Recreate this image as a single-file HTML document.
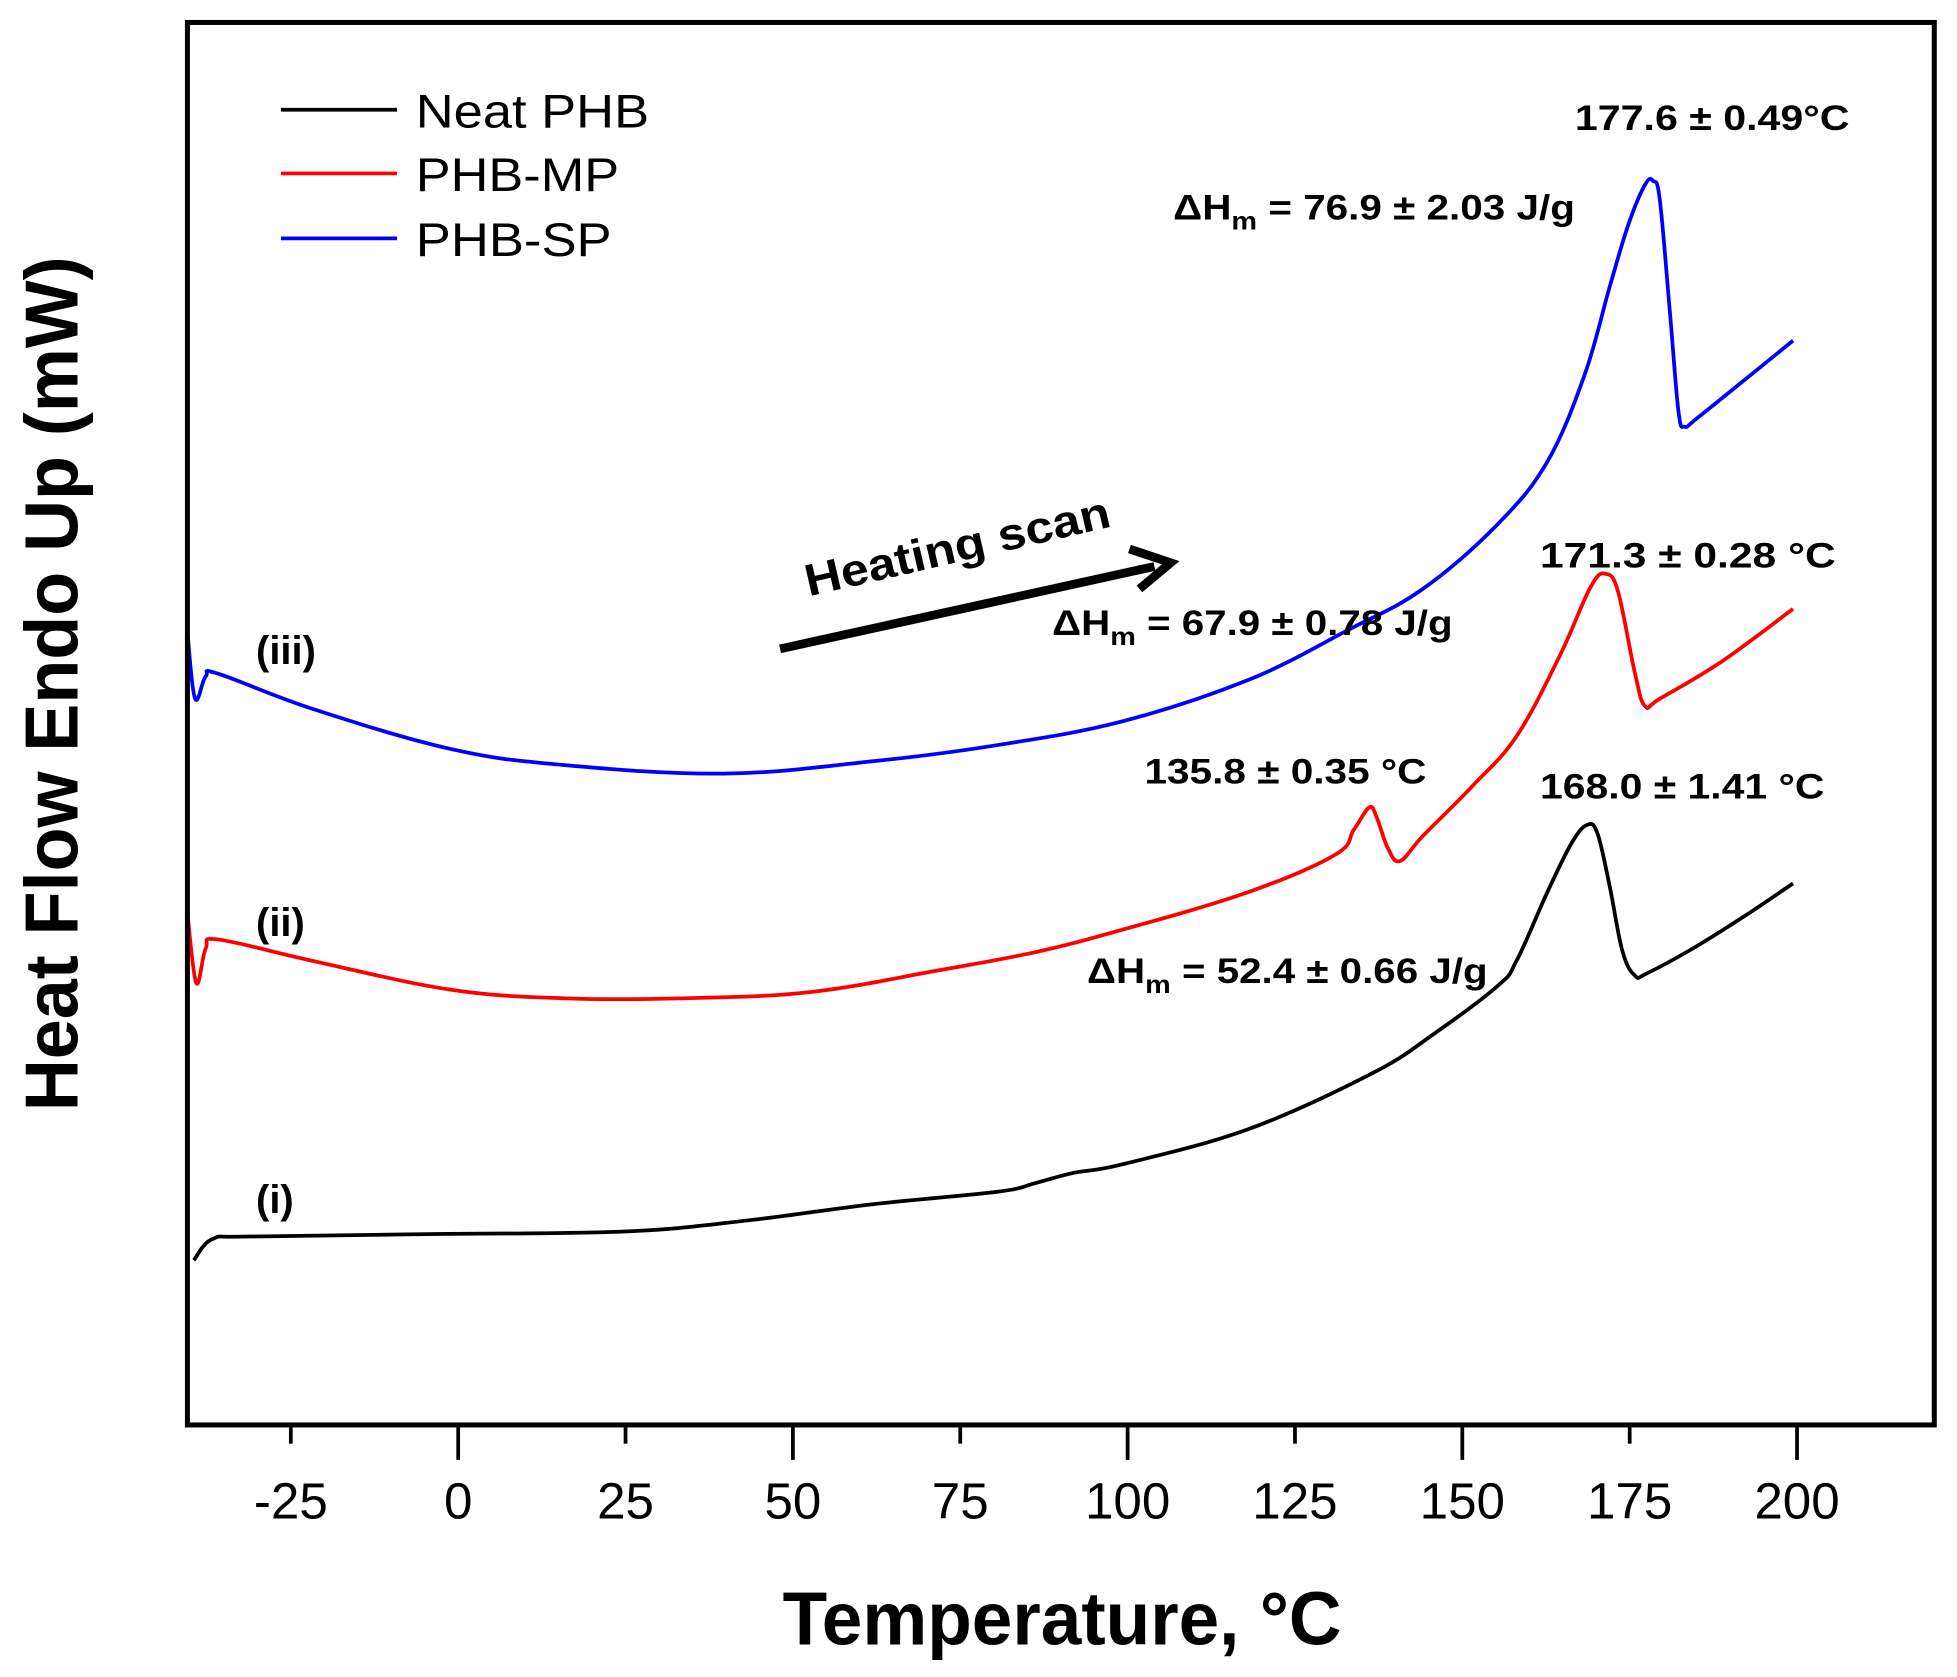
<!DOCTYPE html>
<html><head><meta charset="utf-8"><style>
html,body{margin:0;padding:0;background:#fff;}
svg{display:block;font-family:"Liberation Sans",Arial,sans-serif;}
</style></head><body>
<svg id="chart" width="1957" height="1677" viewBox="0 0 1568 1344" xmlns="http://www.w3.org/2000/svg">
<rect x="0" y="0" width="1568" height="1344" fill="#fff"/>
<g id="plot"></g>
<rect x="150" y="18" width="1400" height="1124" fill="none" stroke="#000" stroke-width="4"/>
<g id="xaxis"></g>
<text x="851" y="1318" text-anchor="middle" font-weight="bold" font-size="60" textLength="448" lengthAdjust="spacingAndGlyphs">Temperature, °C</text>
<text transform="translate(62,548) rotate(-90)" text-anchor="middle" font-weight="bold" font-size="60" textLength="685" lengthAdjust="spacingAndGlyphs">Heat Flow Endo Up (mW)</text>
<g>
<g><line x1="225" y1="88" x2="318" y2="88" stroke="#000" stroke-width="3"/><text x="333" y="102" font-size="38" textLength="187" lengthAdjust="spacingAndGlyphs">Neat PHB</text></g>
<g><line x1="225" y1="139" x2="318" y2="139" stroke="#f00" stroke-width="3"/><text x="333" y="153" font-size="38" textLength="163" lengthAdjust="spacingAndGlyphs">PHB-MP</text></g>
<g><line x1="225" y1="191" x2="318" y2="191" stroke="#00f" stroke-width="3"/><text x="333" y="205" font-size="38" textLength="157" lengthAdjust="spacingAndGlyphs">PHB-SP</text></g>
</g>
<g font-weight="bold" font-size="28">
<text x="1262" y="104" textLength="220" lengthAdjust="spacingAndGlyphs">177.6 ± 0.49°C</text>
<text x="940" y="176" textLength="322" lengthAdjust="spacingAndGlyphs">ΔH<tspan font-size="20" dy="8">m</tspan><tspan dy="-8"> = 76.9 ± 2.03 J/g</tspan></text>
<text x="1234" y="455" textLength="237" lengthAdjust="spacingAndGlyphs">171.3 ± 0.28  °C</text>
<text x="843" y="509" textLength="321" lengthAdjust="spacingAndGlyphs">ΔH<tspan font-size="20" dy="8">m</tspan><tspan dy="-8"> = 67.9 ± 0.78 J/g</tspan></text>
<text x="917" y="628" textLength="226" lengthAdjust="spacingAndGlyphs">135.8 ± 0.35 °C</text>
<text x="1234" y="640" textLength="228" lengthAdjust="spacingAndGlyphs">168.0 ± 1.41 °C</text>
<text x="871" y="788" textLength="321" lengthAdjust="spacingAndGlyphs">ΔH<tspan font-size="20" dy="8">m</tspan><tspan dy="-8"> = 52.4 ± 0.66 J/g</tspan></text>
<text x="205" y="532" font-size="32">(iii)</text>
<text x="205" y="750" font-size="32">(ii)</text>
<text x="205" y="972" font-size="32">(i)</text>
</g>
<g>
<line x1="625" y1="520" x2="925" y2="454" stroke="#000" stroke-width="7"/>
<polyline points="905,440 938,451 913,472" fill="none" stroke="#000" stroke-width="7" stroke-linejoin="miter"/>
</g>
<text transform="translate(648,478) rotate(-13)" font-weight="bold" font-size="36" textLength="250" lengthAdjust="spacingAndGlyphs">Heating scan</text>
</svg>
<script>
const xTicks = [-25, 0, 25, 50, 75, 100, 125, 150, 175, 200];
const neatT = [-39.5,-36.7,-31.1,-3.2,24.8,43.4,62.1,80.7,86.3,91.9,99.3,118.0,136.6,145.9,155.3,158.1,162.7,166.4,168.7,170.2,172.0,173.9,175.8,177.6,185.1,192.5,199.4];
const neatV = [1.32,1.49,1.51,1.53,1.55,1.64,1.77,1.87,1.94,2.02,2.09,2.37,2.82,3.14,3.52,3.72,4.27,4.67,4.81,4.74,4.32,3.80,3.60,3.62,3.84,4.09,4.34];
const mpT = [-40.4,-39.1,-37.7,-35.8,-21.8,-1.3,15.5,34.1,52.7,71.4,86.3,99.3,118.0,131.0,133.8,136.1,137.2,138.9,140.7,144.1,151.5,158.1,164.6,169.2,171.5,173.3,175.8,177.3,179.5,188.8,199.4];
const mpV = [4.07,3.54,3.82,3.89,3.72,3.49,3.42,3.42,3.47,3.64,3.79,3.97,4.27,4.57,4.77,4.95,4.87,4.62,4.52,4.72,5.12,5.52,6.17,6.72,6.82,6.67,6.02,5.76,5.82,6.12,6.54];
const spT = [-40.4,-39.3,-37.7,-35.8,-21.8,-1.3,15.5,39.7,62.1,80.7,99.3,118.0,132.9,144.1,155.3,162.7,168.3,172.0,174.8,177.3,178.5,179.5,181.0,182.3,183.2,185.1,192.5,199.4];
const spV = [6.32,5.82,6.00,6.02,5.74,5.42,5.29,5.22,5.32,5.45,5.64,5.97,6.37,6.70,7.22,7.72,8.42,9.12,9.62,9.94,9.97,9.82,8.92,8.12,8.00,8.07,8.39,8.69];

const NS = 'http://www.w3.org/2000/svg';
function xs(t){ return 367 + t * 5.365; }
function ys(v){ return 1142 - v * 100; }

const xg = document.getElementById('xaxis');
xTicks.forEach(function(t){
  const major = (t % 50 === 0);
  const ln = document.createElementNS(NS, 'line');
  ln.setAttribute('x1', xs(t)); ln.setAttribute('x2', xs(t));
  ln.setAttribute('y1', 1144); ln.setAttribute('y2', major ? 1170 : 1157);
  ln.setAttribute('stroke', '#000'); ln.setAttribute('stroke-width', 3);
  
  
  xg.appendChild(ln);
  const tx = document.createElementNS(NS, 'text');
  tx.setAttribute('x', xs(t)); tx.setAttribute('y', 1217);
  tx.setAttribute('text-anchor', 'middle'); tx.setAttribute('font-size', '41');
  tx.textContent = String(t);
  
  
  xg.appendChild(tx);
});

const plot = document.getElementById('plot');
function drawSeries(T, V, color, name){
  const P = T.map(function(t,i){ return [xs(t), ys(V[i])]; });
  let d = 'M' + P[0][0].toFixed(1) + ',' + P[0][1].toFixed(1);
  const k = 0.18;
  for (let i = 0; i < P.length - 1; i++){
    const p0 = P[Math.max(0,i-1)], p1 = P[i], p2 = P[i+1], p3 = P[Math.min(P.length-1,i+2)];
    const c1x = p1[0] + (p2[0]-p0[0])*k, c1y = p1[1] + (p2[1]-p0[1])*k;
    const c2x = p2[0] - (p3[0]-p1[0])*k, c2y = p2[1] - (p3[1]-p1[1])*k;
    d += ' C' + c1x.toFixed(1) + ',' + c1y.toFixed(1) + ' ' + c2x.toFixed(1) + ',' + c2y.toFixed(1) + ' ' + p2[0].toFixed(1) + ',' + p2[1].toFixed(1);
  }
  const p = document.createElementNS(NS, 'path');
  p.setAttribute('d', d);
  p.setAttribute('fill', 'none'); p.setAttribute('stroke', color);
  p.setAttribute('stroke-width', 3); p.setAttribute('stroke-linejoin', 'round');
  
  
  plot.appendChild(p);
}
drawSeries(neatT, neatV, '#000', 'neat-phb-curve');
drawSeries(mpT, mpV, '#f00', 'phb-mp-curve');
drawSeries(spT, spV, '#00f', 'phb-sp-curve');
</script>
</body></html>
